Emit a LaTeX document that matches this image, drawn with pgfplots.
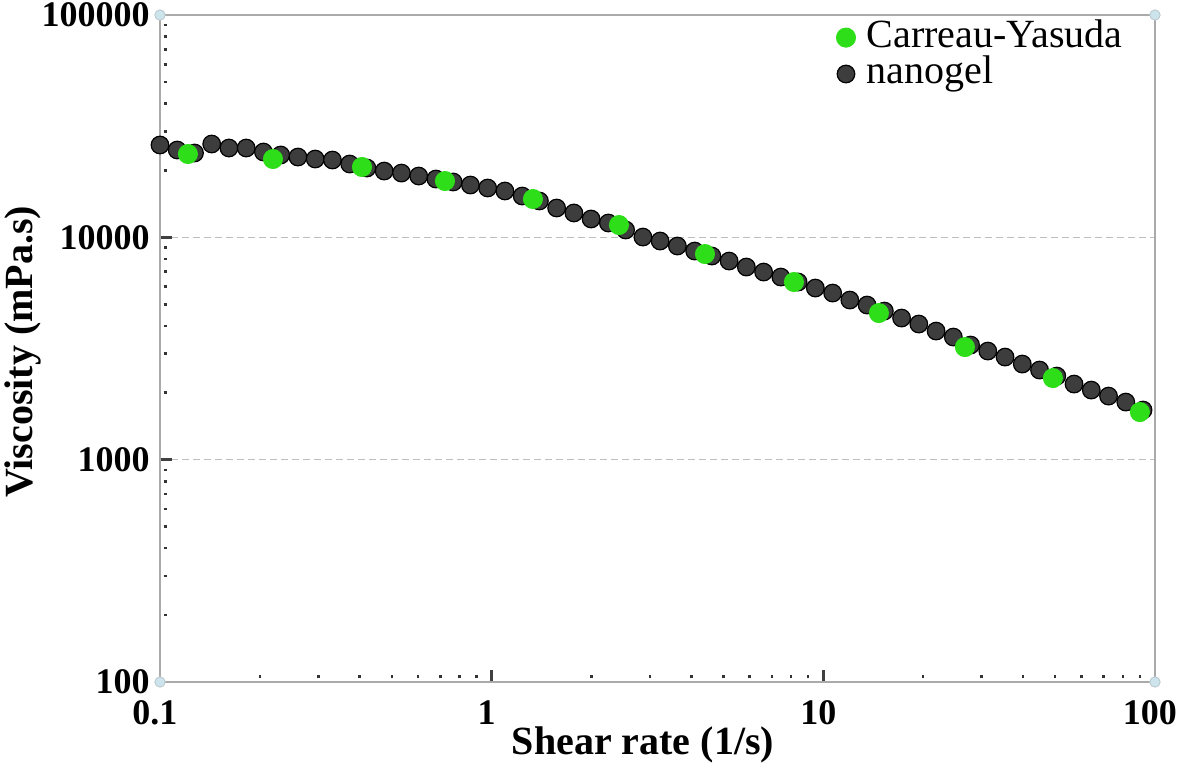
\documentclass[border=0pt]{standalone}
\usepackage{pgfplots}
\pgfplotsset{compat=1.18}
\usepackage{fontspec}
\setmainfont{Liberation Serif}
\definecolor{cygreen}{RGB}{45,222,25}
\definecolor{axgray}{RGB}{170,170,170}
\definecolor{gridgray}{RGB}{190,190,190}
\definecolor{cornerblue}{RGB}{205,228,236}

\pgfplotstableread{
x y
0.1 26020
0.1127 24700
0.1271 23950
0.1432 26290
0.1614 25220
0.1820 25220
0.2051 24200
0.2312 23460
0.2606 22970
0.2938 22500
0.3311 22270
0.3733 21370
0.4207 20500
0.4742 19870
0.5346 19460
0.6026 18870
0.6792 18290
0.7656 17740
0.8630 17190
0.9727 16670
1.0965 16160
1.236 15340
1.393 14570
1.570 13550
1.770 12870
1.995 12090
2.249 11600
2.535 10790
2.858 10030
3.221 9625
3.631 9140
4.093 8677
4.613 8240
5.200 7824
5.861 7353
6.607 6982
7.447 6629
8.395 6295
9.462 5915
10.67 5616
12.02 5223
13.55 4960
15.28 4661
17.22 4335
19.41 4074
21.88 3789
24.66 3561
27.80 3278
31.33 3080
35.32 2894
39.81 2692
44.87 2530
50.58 2377
57.02 2188
64.27 2056
72.44 1932
81.66 1816
92.05 1672
}\nanogel

\pgfplotstableread{
x y
0.1214 23700
0.2191 22500
0.4064 20720
0.7231 17920
1.332 14870
2.420 11360
4.397 8412
8.155 6295
14.71 4565
26.73 3210
49.23 2328
90.05 1637
}\carreau

\begin{document}
\begin{tikzpicture}
\begin{loglogaxis}[
  at={(0,0)}, anchor=south west,
  scale only axis, width=497.5pt, height=333.5pt,
  xmin=0.1, xmax=100, ymin=100, ymax=100000,
  xtick={0.1,1,10,100}, xticklabels={0.1,1,10,100},
  ytick={100,1000,10000,100000}, yticklabels={100,1000,10000,100000},
  xtick pos=bottom, ytick pos=left,
  ticklabel style={font=\fontsize{18}{20}\selectfont\bfseries},
  xticklabel style={inner sep=0pt, yshift=-9pt, xshift=-2.5pt},
  yticklabel style={inner sep=0pt, xshift=-5pt},
  axis line style={axgray, line width=1.4pt},
  tick align=inside,
  major tick length=6pt, minor tick length=3.5pt,
  major tick style={black!75, line width=1.2pt},
  minor tick style={black!80, line width=1.3pt, dash pattern=on 0pt off 1.8pt on 1.7pt},
  ymajorgrids, xmajorgrids=false,
  major grid style={gridgray, line width=0.8pt, dash pattern=on 3.5pt off 2pt},
  xlabel={Shear rate (1/s)}, ylabel={Viscosity (mPa.s)},
  every axis x label/.style={at={(axis description cs:0.4854,-0.0945)}, anchor=center,
    font=\fontsize{20}{22}\selectfont\bfseries},
  every axis y label/.style={at={(axis description cs:-0.138,0.495)}, anchor=center, rotate=90,
    font=\fontsize{20}{22}\selectfont\bfseries},
  legend style={at={(axis description cs:0.6794,0.994)}, anchor=north west,
    draw=none, fill=none, inner sep=0pt, column sep=5.5pt,
    font=\fontsize{20}{22}\selectfont,
    nodes={inner sep=0pt, text height=14pt, text depth=4.2pt}},
  legend cell align=left,
  reverse legend,
  legend image code/.code={\draw[#1] plot coordinates {(0pt,0pt)};},
  after end axis/.code={
    \foreach \p in {(rel axis cs:0,0),(rel axis cs:1,0),(rel axis cs:0,1),(rel axis cs:1,1)}{
      \draw[fill=cornerblue, draw=cornerblue!70!gray, line width=0.4pt] \p circle (2.6pt);}
  },
]
\addplot[only marks, mark=*, mark size=4.4pt,
  mark options={fill=black!76, draw=black, line width=0.6pt}] table[x=x,y=y] {\nanogel};
\addlegendentry{nanogel}
\addplot[only marks, mark=*, mark size=4.8pt,
  mark options={fill=cygreen, draw=cygreen}] table[x=x,y=y] {\carreau};
\addlegendentry{Carreau-Yasuda}
\end{loglogaxis}
\pgfresetboundingbox
\useasboundingbox (-80pt,-43pt) rectangle (510pt,341pt);
\end{tikzpicture}
\end{document}
